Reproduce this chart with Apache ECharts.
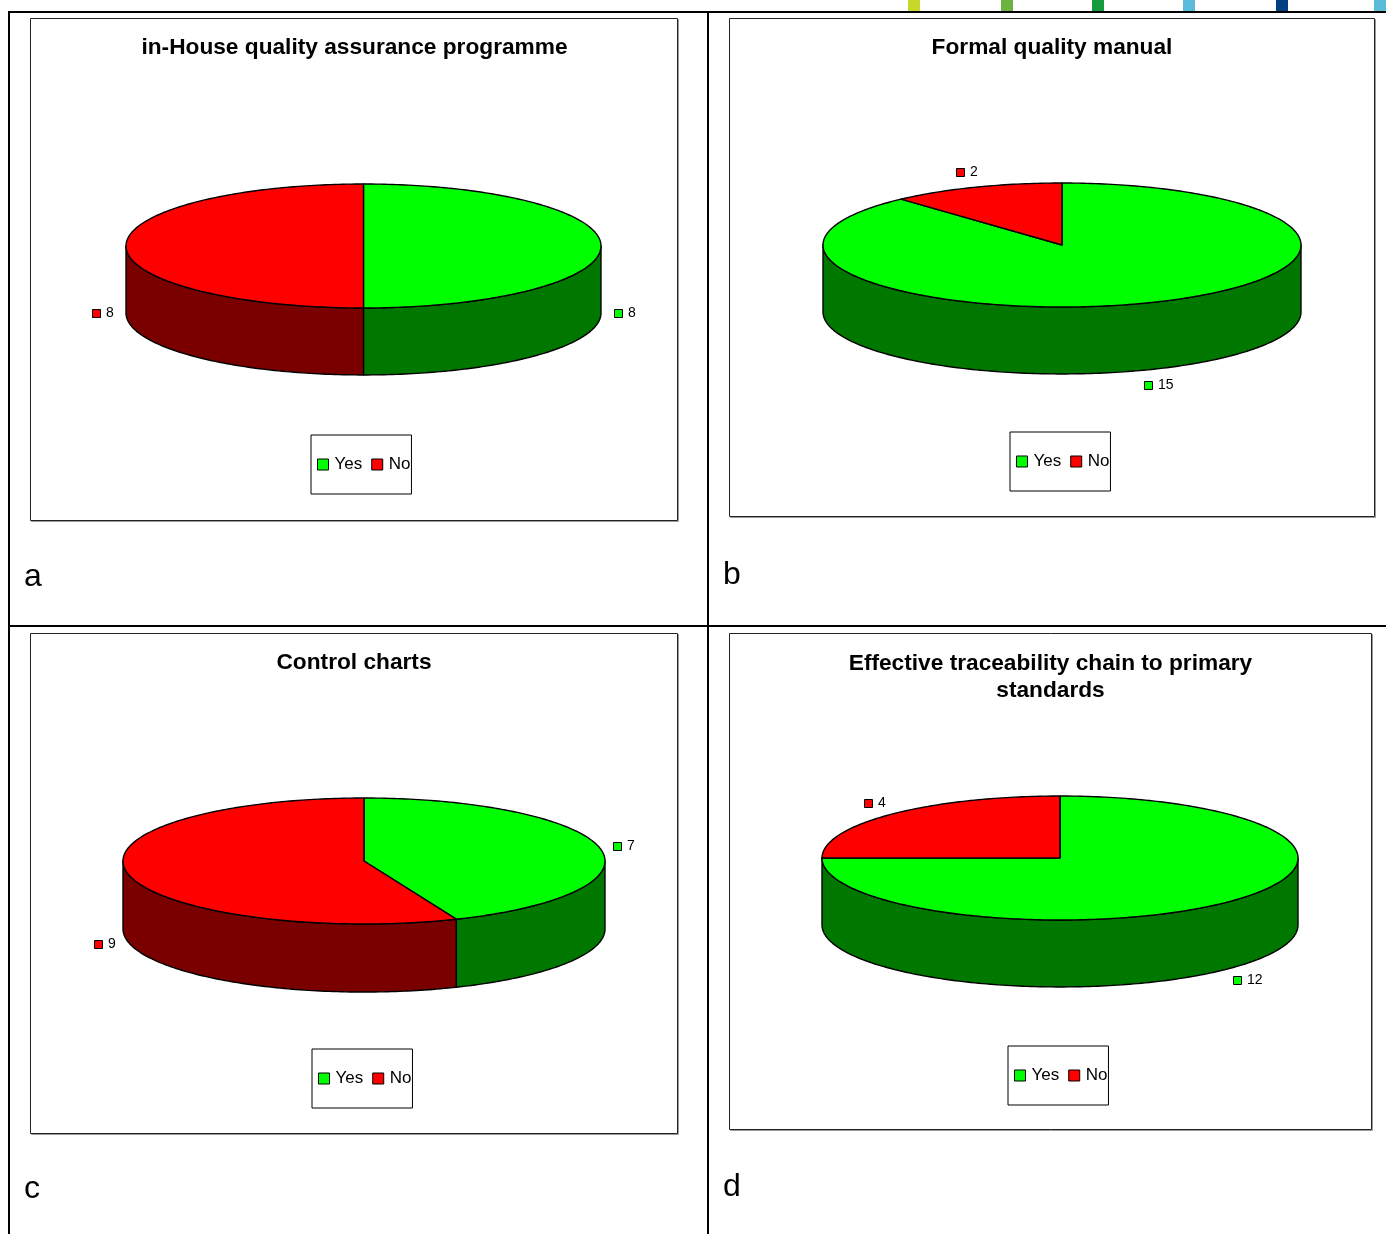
<!DOCTYPE html>
<html><head><meta charset="utf-8">
<script src="https://cdn.jsdelivr.net/npm/echarts@6/dist/echarts.min.js"></script>
<style>html,body{margin:0;padding:0;background:#fff}#c{width:1386px;height:1234px}</style>
</head><body><div id="c"></div><script>
// ---- data ----
const titles = ['in-House quality assurance programme', 'Formal quality manual', 'Control charts', 'Effective traceability chain to primary\nstandards'];
const panelLetters = ['a', 'b', 'c', 'd'];
const categories = ['Yes', 'No'];
const yesValues = [8, 15, 7, 12];
const noValues = [8, 2, 9, 4];

// ---- layout / style ----
const FONT = '"Liberation Sans", Arial, sans-serif';
const topColors = { Yes: '#00ff00', No: '#ff0000' };
const sideColors = { Yes: '#007800', No: '#7a0000' };
const pies = [
  { cx: 363.5, cy: 246, rx: 237.5, ry: 62 },
  { cx: 1062, cy: 245, rx: 239, ry: 62 },
  { cx: 364, cy: 861, rx: 241, ry: 63 },
  { cx: 1060, cy: 858, rx: 238, ry: 62 }
];
const DEPTH = 1.08;
const boxes = [[30.5, 18.5, 647, 502], [729.5, 18.5, 645, 498], [30.5, 633.5, 647, 500], [729.5, 633.5, 642, 496]];
const titleCenters = [354.5, 1052, 354, 1050.5];
const titleTops = [34.5, 34.5, 649.5, 650];
const legendPos = [[311, 435], [1010, 432], [312, 1049], [1008, 1046]];
const letterPos = [[24, 577], [723, 575], [24, 1189], [723, 1187]];

function makeRender(name) {
  const topColor = topColors[name], sideColor = sideColors[name];
  return function (params, api) {
    const s = api.value(0), e = api.value(1), t = api.value(2);
    const a0 = s / t * Math.PI * 2, a1 = e / t * Math.PI * 2;
    const P = (a, dz) => api.coord([Math.sin(a), Math.cos(a) - dz]);
    const arc = (from, to, dz) => {
      const n = Math.max(2, Math.ceil(Math.abs(to - from) / (Math.PI / 180)));
      const pts = [];
      for (let i = 0; i <= n; i++) pts.push(P(from + (to - from) * i / n, dz));
      return pts;
    };
    const children = [];
    const f0 = Math.max(a0, Math.PI / 2), f1 = Math.min(a1, Math.PI * 1.5);
    if (f1 > f0) {
      children.push({ type: 'polygon', shape: { points: arc(f0, f1, 0).concat(arc(f1, f0, DEPTH)) },
        style: { fill: sideColor, stroke: '#000', lineWidth: 1.4, lineJoin: 'round' } });
    }
    children.push({ type: 'polygon', shape: { points: [api.coord([0, 0])].concat(arc(a0, a1, 0)) },
      style: { fill: topColor, stroke: '#000', lineWidth: 1.4, lineJoin: 'round' } });
    // data label
    const m = (a0 + a1) / 2;
    const front = Math.cos(m) < 1e-9;
    const p = P(m, front ? DEPTH : 0);
    const txt = String(e - s);
    const w = 9 + 5 + 7.5 * txt.length;
    const lx = p[0] + Math.sin(m) * (w / 2 + 13) - w / 2;
    const ly = p[1] - Math.cos(m) * 16;
    children.push({ type: 'rect', shape: { x: Math.round(lx) + 0.5, y: Math.round(ly - 4) + 0.5, width: 8, height: 8 },
      style: { fill: topColor, stroke: '#000', lineWidth: 1 } });
    children.push({ type: 'text', x: Math.round(lx) + 14, y: Math.round(ly) + 0.5,
      style: { text: txt, fill: '#000', font: '14px ' + FONT, align: 'left', verticalAlign: 'middle', textAlign: 'left', textVerticalAlign: 'middle' } });
    return { type: 'group', children };
  };
}

const grids = [], xAxes = [], yAxes = [], series = [], legends = [], titleOpts = [];
pies.forEach((pc, i) => {
  grids.push({ left: pc.cx - pc.rx, top: pc.cy - pc.ry, width: pc.rx * 2, height: pc.ry * (2 + DEPTH) });
  xAxes.push({ type: 'value', gridIndex: i, min: -1, max: 1, show: false });
  yAxes.push({ type: 'value', gridIndex: i, min: -(1 + DEPTH), max: 1, show: false });
  const total = yesValues[i] + noValues[i];
  const ranges = { Yes: [0, yesValues[i]], No: [yesValues[i], total] };
  categories.forEach(name => {
    series.push({
      type: 'custom', name, xAxisIndex: i, yAxisIndex: i, clip: false, silent: true,
      itemStyle: { color: topColors[name] },
      data: [[ranges[name][0], ranges[name][1], total]],
      renderItem: makeRender(name)
    });
  });
  legends.push({
    data: categories, left: legendPos[i][0], top: legendPos[i][1], orient: 'horizontal',
    icon: 'rect', itemWidth: 11, itemHeight: 11, itemGap: 9, padding: [21, 1, 21, 6],
    borderColor: '#000', borderWidth: 1, backgroundColor: '#fff', selectedMode: false,
    itemStyle: { borderColor: '#000', borderWidth: 1 },
    textStyle: { fontSize: 17, color: '#000', fontFamily: FONT, padding: [0, 0, 0, 1] }
  });
  titleOpts.push({
    text: titles[i], left: titleCenters[i], top: titleTops[i], textAlign: 'center', padding: 0,
    textStyle: { fontSize: 22.7, fontWeight: 'bold', color: '#000', fontFamily: FONT, lineHeight: 27 }
  });
});

const graphics = [];
// header colour squares
[[908, '#c8d82a'], [1001, '#6db33f'], [1092, '#159a3d'], [1183, '#5bbcd9'], [1276, '#004080'], [1374, '#5bbcd9']].forEach(([x, c]) => {
  graphics.push({ type: 'rect', shape: { x, y: 0, width: 12, height: 11 }, style: { fill: c } });
});
// table rules
[[8, 11, 1378, 2], [8, 11, 2, 1223], [707, 11, 2, 1223], [8, 625, 1378, 2]].forEach(([x, y, w, h]) => {
  graphics.push({ type: 'rect', shape: { x, y, width: w, height: h }, style: { fill: '#000' } });
});
// chart frames
boxes.forEach(([x, y, w, h]) => {
  graphics.push({ type: 'rect', shape: { x: x + 1, y: y + 1, width: w, height: h }, style: { fill: 'none', stroke: '#999', lineWidth: 1 } });
  graphics.push({ type: 'rect', shape: { x, y, width: w, height: h }, style: { fill: '#fff', stroke: '#222', lineWidth: 1 } });
});
panelLetters.forEach((l, i) => {
  graphics.push({ type: 'text', x: letterPos[i][0], y: letterPos[i][1],
    style: { text: l, fill: '#000', font: '32px ' + FONT, align: 'left', verticalAlign: 'middle', textAlign: 'left', textVerticalAlign: 'middle' } });
});

const chart = echarts.init(document.getElementById('c'), null, { renderer: 'canvas' });
chart.setOption({
  animation: false,
  backgroundColor: '#fff',
  title: titleOpts,
  legend: legends,
  grid: grids,
  xAxis: xAxes,
  yAxis: yAxes,
  graphic: { elements: graphics },
  series
});
</script></body></html>
